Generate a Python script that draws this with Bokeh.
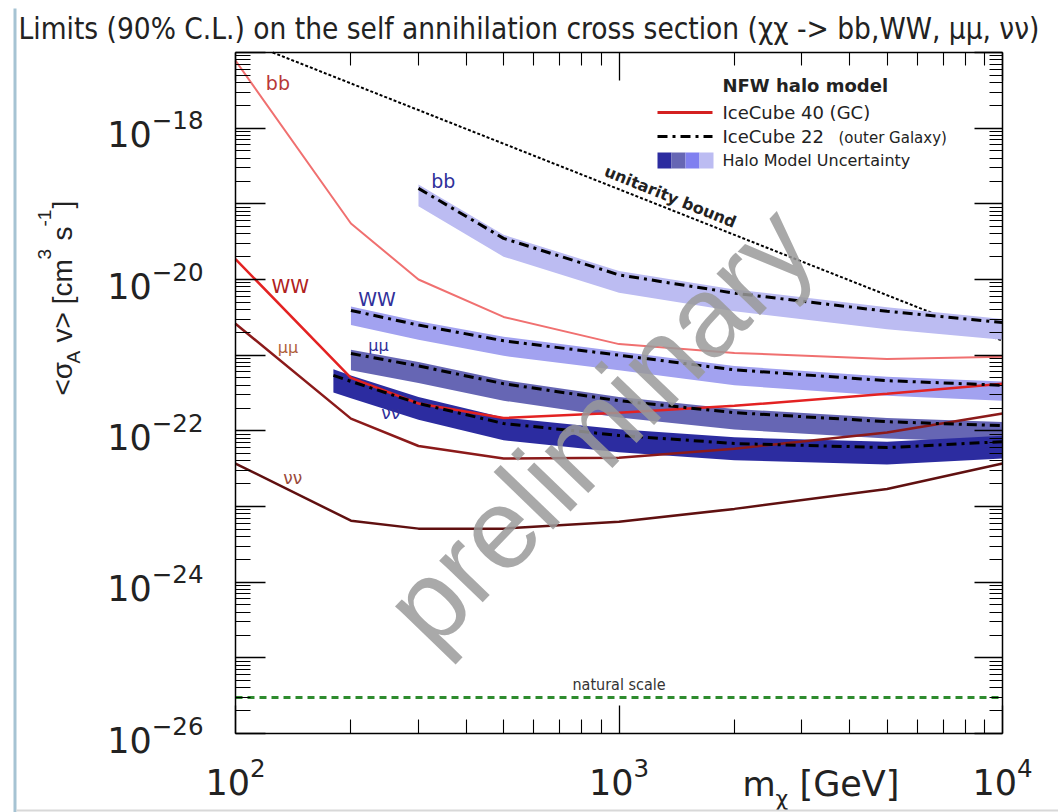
import math

from bokeh.plotting import figure
from bokeh.models import (FixedTicker, LogAxis, Label, BoxAnnotation, Arrow,
                          CustomJSTickFormatter, Range1d)
from bokeh.embed import file_html
from bokeh.resources import INLINE

# ---------------------------------------------------------------------------
# IceCube-40, Galactic Centre (NFW halo): 90% C.L. limits on <sigma_A v> [cm^3 s^-1]
gc_mass = [100, 200, 300, 500, 1000, 2000, 5000, 10000]
gc_bb = [7.8e-18, 5.5e-20, 1.0e-20, 3.2e-21, 1.4e-21, 1.07e-21, 8.9e-22, 9.5e-22]
gc_ww = [1.86e-20, 5.0e-22, 2.3e-22, 1.48e-22, 1.74e-22, 2.14e-22, 3.1e-22, 4.2e-22]
gc_mumu = [2.6e-21, 1.45e-22, 6.3e-23, 4.3e-23, 4.4e-23, 5.8e-23, 9.5e-23, 1.7e-22]
gc_nunu = [3.7e-23, 6.5e-24, 5.1e-24, 5.1e-24, 6.3e-24, 9.3e-24, 1.7e-23, 3.7e-23]

# IceCube-22, outer Galaxy: NFW limit with the halo-model uncertainty band
og_bb_mass = [300, 500, 1000, 2000, 5000, 10000]
og_bb = [1.6e-19, 3.5e-20, 1.15e-20, 6.6e-21, 3.8e-21, 2.7e-21]
og_bb_hi = [1.8e-19, 3.9e-20, 1.3e-20, 7.4e-21, 4.3e-21, 3.0e-21]
og_bb_lo = [9.3e-20, 2.0e-20, 6.7e-21, 3.8e-21, 2.2e-21, 1.6e-21]

og_mass = [200, 300, 500, 1000, 2000, 5000, 10000]
og_ww = [3.9e-21, 2.5e-21, 1.55e-21, 1.0e-21, 6.4e-22, 4.6e-22, 4.0e-22]
og_ww_hi = [4.4e-21, 2.8e-21, 1.75e-21, 1.12e-21, 7.2e-22, 5.2e-22, 4.5e-22]
og_ww_lo = [2.5e-21, 1.6e-21, 9.8e-22, 6.3e-22, 4.0e-22, 2.9e-22, 2.5e-22]

og_mumu = [1.05e-21, 7.2e-22, 4.2e-22, 2.5e-22, 1.74e-22, 1.32e-22, 1.17e-22]
og_mumu_hi = [1.18e-21, 8.1e-22, 4.7e-22, 2.8e-22, 1.95e-22, 1.48e-22, 1.31e-22]
og_mumu_lo = [6.3e-22, 4.3e-22, 2.5e-22, 1.5e-22, 1.04e-22, 7.9e-23, 7.0e-23]

og_nunu_mass = [180, 200, 300, 500, 1000, 2000, 5000, 10000]
og_nunu = [5.4e-22, 4.5e-22, 2.3e-22, 1.25e-22, 8.7e-23, 6.8e-23, 6.0e-23, 7.2e-23]
og_nunu_hi = [6.5e-22, 5.4e-22, 2.8e-22, 1.5e-22, 1.05e-22, 8.2e-23, 7.2e-23, 8.6e-23]
og_nunu_lo = [3.2e-22, 2.7e-22, 1.4e-22, 7.5e-23, 5.2e-23, 4.1e-23, 3.6e-23, 4.3e-23]

# reference lines
unitarity_mass = [125, 10000]
unitarity_sigma = [1.0e-17, 1.55e-21]
natural_mass = [100, 10000]
natural_sigma = [3e-26, 3e-26]

# plotted window and axis ticks
mass_window = (100.0, 10000.0)
sigma_window = (1e-26, 1e-17)
x_major = [100.0, 1000.0, 10000.0]
x_minor = [k * 10.0 ** e for e in (2, 3) for k in range(2, 10)]
y_major = [10.0 ** e for e in range(-26, -16)]
y_minor = [k * 10.0 ** e for e in range(-26, -17) for k in range(2, 10)]
y_unlabelled = [t for t, e in zip(y_major, range(-26, -16)) if e % 2 != 0]

# ---------------------------------------------------------------------------
# The frame spans the whole canvas; the axes box sits inside it at these pixels,
# so titles and labels around the box stay inside the drawable area.
W, H = 1058, 812
BL, BR, BT, BB = 235, 1002, 52, 733

px_per_dec_x = (BR - BL) / math.log10(mass_window[1] / mass_window[0])
px_per_dec_y = (BB - BT) / math.log10(sigma_window[1] / sigma_window[0])
x_range = Range1d(mass_window[0] / 10 ** (BL / px_per_dec_x),
                  mass_window[1] * 10 ** ((W - BR) / px_per_dec_x))
y_range = Range1d(sigma_window[0] / 10 ** ((H - BB) / px_per_dec_y),
                  sigma_window[1] * 10 ** (BT / px_per_dec_y))


def sx(px):
    return px


def sy(py):
    return H - py


TICK_FONT = "DejaVu Sans"
TXT = "DejaVu Sans"
COND = "DejaVu Sans Condensed"

p = figure(width=W, height=H, x_axis_type="log", y_axis_type="log",
           x_range=x_range, y_range=y_range, min_border=0,
           output_backend="svg", toolbar_location=None,
           background_fill_color="white", border_fill_color="white")
p.grid.visible = False
p.outline_line_color = None


def style_axis(ax, major_len, minor_len):
    ax.axis_line_color = "black"
    ax.axis_line_width = 1.5
    ax.major_tick_line_color = "black"
    ax.minor_tick_line_color = "black"
    ax.major_tick_line_width = 1.3
    ax.minor_tick_line_width = 1.1
    ax.major_tick_in = major_len
    ax.major_tick_out = 0
    ax.minor_tick_in = minor_len
    ax.minor_tick_out = 0


xax = p.xaxis[0]
xax.ticker = FixedTicker(ticks=x_major, minor_ticks=x_minor)
xax.fixed_location = sigma_window[0]
xax.bounds = mass_window
style_axis(xax, 28, 14)
xax.major_label_text_font = TICK_FONT
xax.major_label_text_font_size = "35px"
xax.major_label_text_color = "#222222"
xax.major_label_standoff = 23

yax = p.yaxis[0]
yax.ticker = FixedTicker(ticks=y_major, minor_ticks=y_minor)
yax.fixed_location = mass_window[0]
yax.bounds = sigma_window
style_axis(yax, 30, 15)
yax.major_label_text_font = TICK_FONT
yax.major_label_text_font_size = "35px"
yax.major_label_text_color = "#222222"
yax.major_label_standoff = 32
yax.major_label_overrides = {t: "" for t in y_unlabelled}

blank = "return ''"
top = LogAxis(ticker=FixedTicker(ticks=x_major, minor_ticks=x_minor),
              formatter=CustomJSTickFormatter(code=blank),
              fixed_location=sigma_window[1], bounds=mass_window,
              major_label_text_font_size="0px", major_label_standoff=0)
style_axis(top, 28, 13)
p.add_layout(top, "above")

right = LogAxis(ticker=FixedTicker(ticks=y_major, minor_ticks=y_minor),
                formatter=CustomJSTickFormatter(code=blank),
                fixed_location=mass_window[1], bounds=sigma_window,
                major_label_text_font_size="0px", major_label_standoff=0)
style_axis(right, 28, 13)
p.add_layout(right, "right")

# ---------------------------------------------------------------------------
# reference lines
p.line(natural_mass, natural_sigma, line_color="#2e8b2e", line_width=3, line_dash="7 5")
p.line(unitarity_mass, unitarity_sigma, line_color="black", line_width=2, line_dash="3 2")

# halo-model uncertainty bands (IceCube-22)
BAND_BB, BAND_WW, BAND_MUMU, BAND_NUNU = "#bcbcf2", "#a2a2f0", "#6666b4", "#2c2ca0"
p.varea(x=og_bb_mass, y1=og_bb_lo, y2=og_bb_hi, fill_color=BAND_BB)
p.varea(x=og_mass, y1=og_ww_lo, y2=og_ww_hi, fill_color=BAND_WW)
p.varea(x=og_mass, y1=og_mumu_lo, y2=og_mumu_hi, fill_color=BAND_MUMU)
p.varea(x=og_nunu_mass, y1=og_nunu_lo, y2=og_nunu_hi, fill_color=BAND_NUNU)

# IceCube-40 Galactic Centre limits
p.line(gc_mass, gc_bb, line_color="#f07070", line_width=2)
p.line(gc_mass, gc_ww, line_color="#e32222", line_width=2.5)
p.line(gc_mass, gc_mumu, line_color="#8b1a1a", line_width=2.5)
p.line(gc_mass, gc_nunu, line_color="#601010", line_width=2.5)

# IceCube-22 NFW limits
DASHDOT = "10 5 3 5"
p.line(og_bb_mass, og_bb, line_color="black", line_width=3, line_dash=DASHDOT)
p.line(og_mass, og_ww, line_color="black", line_width=3, line_dash=DASHDOT)
p.line(og_mass, og_mumu, line_color="black", line_width=3, line_dash=DASHDOT)
p.line(og_nunu_mass, og_nunu, line_color="black", line_width=3, line_dash=DASHDOT)


# ---------------------------------------------------------------------------
def note(x, y, text, size, color, font=TXT, style="normal", angle=0.0,
         align="center", units="data", alpha=1.0):
    p.add_layout(Label(x=x, y=y, x_units=units, y_units=units, text=text,
                       text_font=font, text_font_size=f"{size}px",
                       text_font_style=style, text_color=color, text_alpha=alpha,
                       angle=angle, text_align=align, text_baseline="middle"))


# channel labels
note(129, 4.0e-18, "bb", 19, "#b83838")
note(139, 8.3e-21, "WW", 19, "#b02020")
note(137, 1.26e-21, "μμ", 16, "#b0603a")
note(141, 2.4e-23, "νν", 17, "#9a4a3a")
note(348, 2.0e-19, "bb", 19, "#30309a")
note(234, 5.6e-21, "WW", 19, "#30309a")
note(236, 1.34e-21, "μμ", 16, "#30309a")
note(254, 1.74e-22, "νν", 17, "#30309a")

note(1361, 1.24e-19, "unitarity bound", 16, "#222222", style="bold",
     angle=math.radians(-22))
note(1000, 4.4e-26, "natural scale", 16, "#333333", font=COND)

note(884, 1.17e-22, "preliminary", 114, "#9a9a9a", font="Liberation Sans",
     angle=math.radians(46), alpha=0.85)

# legend
note(sx(722), sy(85), "NFW halo model", 18, "#222222", style="bold",
     align="left", units="screen")
p.add_layout(Arrow(end=None, x_start=sx(657), y_start=sy(112), x_end=sx(712),
                   y_end=sy(112), start_units="screen", end_units="screen",
                   line_color="#d42020", line_width=3))
note(sx(722), sy(112), "IceCube 40 (GC)", 18, "#222222", align="left", units="screen")
p.add_layout(Arrow(end=None, x_start=sx(657), y_start=sy(136), x_end=sx(712),
                   y_end=sy(136), start_units="screen", end_units="screen",
                   line_color="black", line_width=3, line_dash=DASHDOT))
note(sx(722), sy(136), "IceCube 22", 18, "#222222", align="left", units="screen")
note(sx(838), sy(137), "(outer Galaxy)", 15, "#222222", align="left", units="screen")
for i, c in enumerate([BAND_NUNU, BAND_MUMU, "#8080f0", BAND_BB]):
    p.add_layout(BoxAnnotation(left=sx(657 + 14 * i), right=sx(671 + 14 * i),
                               bottom=sy(168), top=sy(152),
                               left_units="screen", right_units="screen",
                               bottom_units="screen", top_units="screen",
                               fill_color=c, fill_alpha=1.0, line_color=None))
note(sx(722), sy(160), "Halo Model Uncertainty", 16, "#222222", align="left",
     units="screen")

# title
note(sx(18), sy(28), "Limits (90% C.L.) on the self annihilation cross section "
     "(χχ -> bb,WW, μμ, νν)", 29.5, "#222222", font=COND, align="left",
     units="screen")

# y-axis title, written piece by piece along the rotated text line
ROT = math.pi / 2
YL = "Liberation Sans"
for text, mid_x, start_y, size in [
        ("<σ", 62, 395, 28), ("A", 73, 363, 19), ("v> [cm", 62, 342, 28),
        ("3", 44, 259, 19), ("s", 62, 240, 28), ("-1", 44, 226, 19),
        ("]", 62, 208, 28)]:
    note(sx(mid_x), sy(start_y), text, size, "#222222", font=YL, angle=ROT,
         align="left", units="screen")

# x-axis title
note(sx(742), sy(783), "m", 34, "#222222", align="left", units="screen")
note(sx(775), sy(798), "χ", 22, "#222222", align="left", units="screen")
note(sx(799), sy(783), "[GeV]", 35, "#222222", align="left", units="screen")

# slide decoration: thin bar on the left and rule at the bottom
p.add_layout(BoxAnnotation(left=sx(13), right=sx(16), bottom=sy(812), top=sy(8),
                           left_units="screen", right_units="screen",
                           bottom_units="screen", top_units="screen",
                           fill_color="#a6c3d3", fill_alpha=1.0, line_color=None))
p.add_layout(BoxAnnotation(left=sx(16), right=sx(1058), bottom=sy(811), top=sy(809),
                           left_units="screen", right_units="screen",
                           bottom_units="screen", top_units="screen",
                           fill_color="#d8d8d8", fill_alpha=1.0, line_color=None))

open("out.html", "w").write(file_html(p, INLINE))
